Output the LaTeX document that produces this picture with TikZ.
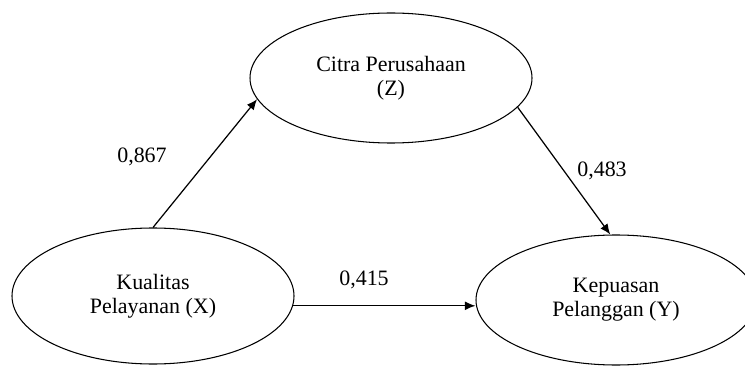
\documentclass[tikz,border=0pt]{standalone}
\usepackage{fontspec}
\setmainfont{Liberation Serif}
\usetikzlibrary{positioning,shapes,arrows.meta}

\tikzset{
	var/.style={draw=black,ellipse,line width=0.6pt,align=center,inner sep=0pt},
	path/.style={arrows={-{Latex[length=6pt,width=5pt]}},line width=0.7pt},
	coef/.style={inner sep=0pt}
}

\begin{document}
\begin{tikzpicture}[font=\fontsize{12.5}{13.5}\selectfont]
	\useasboundingbox (0, 0) rectangle (14.9, 7.3);

	% variables
	\node[var,minimum width=5.64cm,minimum height=2.72cm] (X) at (3.06, 1.38) {Kualitas\\Pelayanan (X)};
	\node[var,minimum width=5.64cm,minimum height=2.6cm] (Z) at (7.82, 5.74) {Citra Perusahaan\\(Z)};
	\node[var,minimum width=5.6cm,minimum height=2.6cm] (Y) at (12.32, 1.3) {Kepuasan\\Pelanggan (Y)};

	% paths
	\draw[path] (X.north) -- (Z.189);
	\draw[path] (Z.-13) -- (Y.95);
	\draw[path] (X.-4) -- (X.-4 -| Y.west);

	% coefficients
	\node[coef] (c1) at (2.84, 4.16) {0,867};
	\node[coef] (c2) at (12.04, 3.88) {0,483};
	\node[coef] (c3) at (7.28, 1.7) {0,415};
\end{tikzpicture}
\end{document}
